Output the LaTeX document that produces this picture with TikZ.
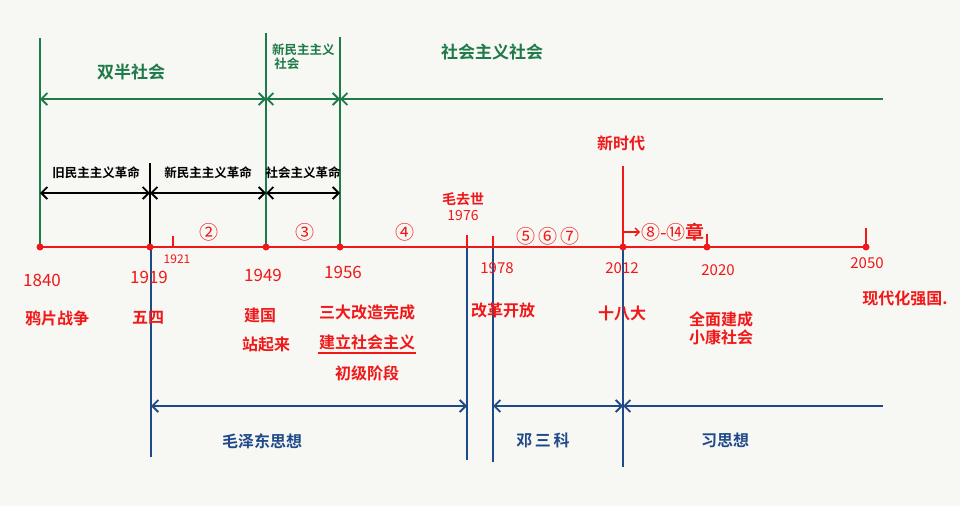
\documentclass[tikz,border=0pt]{standalone}
\usepackage{fontspec}
\setmainfont{Noto Sans CJK SC}[BoldFont={Noto Sans CJK SC Bold}]
\usetikzlibrary{arrows.meta}
\definecolor{bgc}{HTML}{F7F7F3}
\definecolor{grn}{HTML}{1F7A4A}
\definecolor{rd}{HTML}{F01818}
\definecolor{blu}{HTML}{1F4A8A}
\begin{document}
\begin{tikzpicture}[x=1pt,y=-1pt,
  ln/.style={line width=1.9pt},
  both/.style={ln,{Straight Barb[length=6pt,width=12pt]}-{Straight Barb[length=6pt,width=12pt]}},
  leftonly/.style={ln,{Straight Barb[length=6pt,width=12pt]}-},
  dot/.style={circle,fill=rd,inner sep=0pt,minimum size=7pt},
  lbl/.style={inner sep=1pt,font=\bfseries\fontsize{16}{18}\selectfont},
  yr/.style={inner sep=1pt,text=rd,font=\fontsize{17}{18}\selectfont},
  sm/.style={inner sep=1pt,font=\bfseries\fontsize{12.5}{14}\selectfont},
  circ/.style={inner sep=1pt,text=rd,font=\fontsize{19}{20}\selectfont},
]
\fill[bgc] (0,0) rectangle (960,506);
\useasboundingbox (0,0) rectangle (960,506);

% ---------- coordinates on the main red axis ----------
\coordinate (a1840) at (40,247);
\coordinate (a1919) at (150,247);
\coordinate (a1921) at (173,247);
\coordinate (a1949) at (266,247);
\coordinate (a1956) at (340,247);
\coordinate (a1976) at (467,247);
\coordinate (a1978) at (493,247);
\coordinate (a2012) at (623,247);
\coordinate (a2020) at (707,247);
\coordinate (a2050) at (866,247);

% ---------- green (society) ----------
\coordinate (g1t) at (40,38);
\coordinate (g2t) at (266,33);
\coordinate (g3t) at (340,37);
\coordinate (g1) at (40,99);
\coordinate (g2) at (266,99);
\coordinate (g3) at (340,99);
\coordinate (gend) at (883,99);
\draw[grn,ln] (g1t) -- (a1840);
\draw[grn,ln] (g2t) -- (a1949);
\draw[grn,ln] (g3t) -- (a1956);
\draw[grn,both] (g1) -- (g2);
\draw[grn,both] (g2) -- (g3);
\draw[grn,leftonly] (g3) -- (gend);
\node[lbl,text=grn,font=\bfseries\fontsize{17}{18}\selectfont] (sbsh) at (131,72) {双半社会};
\node[sm,text=grn,align=left,anchor=west] (xmzsh) at (271,57) {新民主主义\\\,社会};
\node[lbl,text=grn,font=\bfseries\fontsize{17}{18}\selectfont] (shzysh) at (492,52) {社会主义社会};

% ---------- black (revolution) ----------
\coordinate (k2t) at (150,163);
\coordinate (k1) at (40,193);
\coordinate (k2) at (150,193);
\coordinate (k3) at (266,193);
\coordinate (k4) at (340,193);
\draw[black,ln] (k2t) -- (a1919);
\draw[black,both] (k1) -- (k2);
\draw[black,both] (k2) -- (k3);
\draw[black,both] (k3) -- (k4);
\node[sm,text=black] (jmz) at (96,173) {旧民主主义革命};
\node[sm,text=black] (xmz) at (208,173) {新民主主义革命};
\node[sm,text=black] (shgm) at (303,173) {社会主义革命};

% ---------- blue (thought) ----------
\coordinate (b1b) at (151,457);
\coordinate (b2b) at (467,460);
\coordinate (b3b) at (493,462);
\coordinate (b4b) at (623,467);
\coordinate (b1) at (151,406);
\coordinate (b2) at (467,406);
\coordinate (b3) at (493,406);
\coordinate (b4) at (623,406);
\coordinate (bend) at (883,406);
\draw[blu,ln] (151,247) -- (b1b);
\draw[blu,ln] (a1976) -- (b2b);
\draw[blu,ln] (a1978) -- (b3b);
\draw[blu,ln] (a2012) -- (b4b);
\draw[blu,both] (b1) -- (b2);
\draw[blu,both] (b3) -- (b4);
\draw[blu,leftonly] (b4) -- (bend);
\node[lbl,text=blu] (mzd) at (262,441) {毛泽东思想};
\node[lbl,text=blu] (dsk) at (543,440) {邓\,三\,科};
\node[lbl,text=blu] (xsx) at (725,440) {习思想};

% ---------- red main axis ----------
\draw[rd,ln] (a1840) -- (a2050);
\foreach \p in {a1840,a1919,a1949,a1956,a2012,a2020,a2050} \node[dot] at (\p) {};
\draw[rd,line width=1.4pt] (a1921) -- ++(0,-11);
\draw[rd,line width=1.4pt] (a1976) -- ++(0,-12);
\draw[rd,line width=1.4pt] (a1978) -- ++(0,-11);
\draw[rd,line width=1.4pt] (a2020) -- ++(0,-13);
\draw[rd,line width=1.4pt] (a2050) -- ++(0,-19);
\coordinate (xsdt) at (623,166);
\draw[rd,ln] (xsdt) -- (a2012);
\node[lbl,text=rd] (xsd) at (621,143) {新时代};

\node[yr] (y1840) at (42,280) {1840};
\node[lbl,text=rd] (ypzz) at (57,318) {鸦片战争};
\node[yr] (y1919) at (149,277) {1919};
\node[lbl,text=rd] (ws) at (148,318) {五四};
\node[inner sep=1pt,text=rd,font=\fontsize{12}{13}\selectfont] (y1921) at (177,259) {1921};
\node[circ] (c2) at (209,232) {②};
\node[yr] (y1949) at (263,275) {1949};
\node[lbl,text=rd] (jg) at (260,315) {建国};
\node[lbl,text=rd] (zql) at (266,345) {站起来};
\node[circ] (c3) at (305,232) {③};
\node[yr] (y1956) at (343,272) {1956};
\node[lbl,text=rd] (sdgz) at (367,312) {三大改造完成};
\node[lbl,text=rd] (jlsh) at (367,342) {建立社会主义};
\draw[rd,line width=1.4pt] ([yshift=-2pt]jlsh.south west) -- ([yshift=-2pt]jlsh.south east);
\node[lbl,text=rd] (cjjd) at (367,373) {初级阶段};
\node[circ] (c4) at (405,232) {④};
\node[inner sep=1pt,text=rd,font=\fontsize{14}{16}\selectfont,align=center] (mqs) at (463,207) {\textbf{毛去世}\\1976};
\node[yr,font=\fontsize{15}{16}\selectfont] (y1978) at (497,268) {1978};
\node[lbl,text=rd] (ggkf) at (503,310) {改革开放};
\node[circ] (c567) at (548,236) {⑤\,⑥\,⑦};
\node[yr,font=\fontsize{15}{16}\selectfont] (y2012) at (622,268) {2012};
\node[lbl,text=rd] (sbd) at (622,313) {十八大};
\node[circ,anchor=west] (c814) at (640,232) {⑧-⑭\textbf{章}};
\coordinate (arrs) at (623,232);
\draw[rd,line width=1.4pt,-{Straight Barb[length=4pt,width=8pt]}] (arrs) -- (c814.west);
\node[yr,font=\fontsize{15}{16}\selectfont] (y2020) at (718,270) {2020};
\node[lbl,text=rd,align=center] (qmjc) at (721,328) {全面建成\\小康社会};
\node[yr,font=\fontsize{15}{16}\selectfont] (y2050) at (867,263) {2050};
\node[lbl,text=rd] (xdh) at (905,298) {现代化强国.};
\end{tikzpicture}
\end{document}
